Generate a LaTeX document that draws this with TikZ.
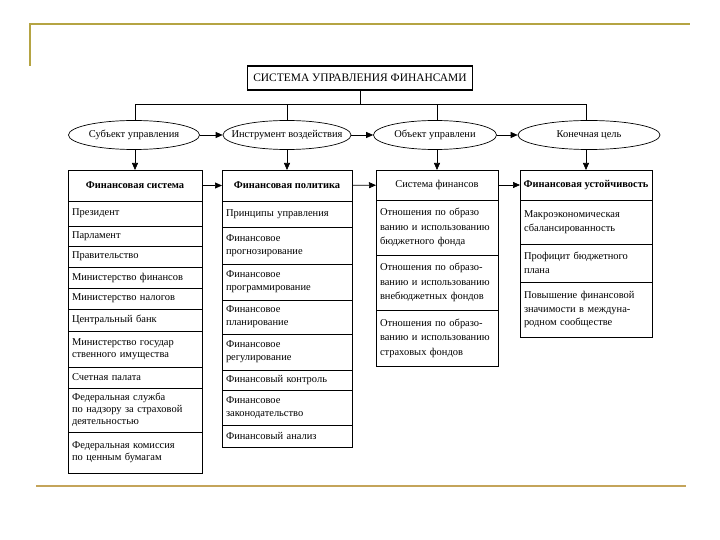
\documentclass[tikz,border=0pt]{standalone}
\usepackage{fontspec}
\setmainfont{Liberation Serif}
\usetikzlibrary{arrows.meta,positioning,shapes.geometric}
\definecolor{FinGold}{HTML}{B5A443}
\definecolor{FinTan}{HTML}{C4A45A}

\begin{document}
\begin{tikzpicture}[x=1bp,y=-1bp,
  node distance=0pt,
  title/.style={draw,line width=1.3pt,inner sep=2bp,minimum width=225bp,minimum height=24bp,
    font=\fontsize{11.5}{13}\selectfont},
  oval/.style={draw,ellipse,line width=0.7pt,minimum height=29bp,inner sep=0bp,
    font=\fontsize{10.5}{12}\selectfont},
  head/.style={draw,line width=0.8pt,outer sep=0pt,minimum height=31bp,inner sep=1bp,
    font=\bfseries\fontsize{10.5}{12}\selectfont,align=center},
  cell/.style={draw,line width=0.8pt,outer sep=0pt,inner xsep=4bp,inner ysep=1bp,align=left,
    font=\fontsize{10.5}{12}\selectfont},
  colA/.style={cell,text width=126bp},
  colB/.style={cell,text width=122bp,font=\fontsize{10.5}{13}\selectfont},
  colC/.style={cell,text width=114bp,font=\fontsize{10.5}{14.5}\selectfont},
  colD/.style={cell,text width=124bp,font=\fontsize{10.5}{14}\selectfont},
  arrow/.style={-{Triangle[length=7bp,width=6bp]},line width=0.7pt},
  wire/.style={line width=0.8pt}
]
\useasboundingbox[fill=white] (0,0) rectangle (720,540);
% frame lines
\draw[FinGold,line width=2.2bp] (30,66) -- (30,24) -- (690,24);
\draw[FinTan,line width=2.4bp] (36,486) -- (686,486);

% top
\node[title] (sys) at (360,78) {СИСТЕМА УПРАВЛЕНИЯ ФИНАНСАМИ};
\node[oval,minimum width=131bp] (subj) at (134,135) {\makebox[0pt]{Субъект управления}};
\node[oval,minimum width=128bp] (instr) at (287,135) {\makebox[0pt]{Инструмент воздействия}};
\node[oval,minimum width=123bp] (obj) at (435,135) {\makebox[0pt]{Объект управлени}};
\node[oval,minimum width=142bp] (goal) at (589,135) {\makebox[0pt]{Конечная цель}};
\coordinate (bus) at (360,104);

% column 1
\node[head,minimum width=134bp,anchor=north] (fsys) at (135,170) {Финансовая система};
\node[colA,minimum height=25bp,below=of fsys] (pres) {Президент};
\node[colA,minimum height=20bp,below=of pres] (parl) {Парламент};
\node[colA,minimum height=21bp,below=of parl] (govt) {Правительство};
\node[colA,minimum height=21bp,below=of govt] (minfin) {Министерство финансов};
\node[colA,minimum height=21bp,below=of minfin] (mintax) {Министерство налогов};
\node[colA,minimum height=22bp,below=of mintax] (cbank) {Центральный банк};
\node[colA,minimum height=36bp,below=of cbank] (minprop) {Министерство государ\\ственного имущества};
\node[colA,minimum height=21bp,below=of minprop] (audit) {Счетная палата};
\node[colA,minimum height=44bp,below=of audit] (insur) {Федеральная служба\\по надзору за страховой\\деятельностью};
\node[colA,minimum height=41bp,below=of insur] (secur) {Федеральная комиссия\\по ценным бумагам};

% column 2
\node[head,minimum width=130bp,anchor=north] (fpol) at (287,170) {Финансовая политика};
\node[colB,minimum height=26bp,below=of fpol] (princ) {Принципы управления};
\node[colB,minimum height=37bp,below=of princ] (forec) {Финансовое\\прогнозирование};
\node[colB,minimum height=36bp,below=of forec] (progr) {Финансовое\\программирование};
\node[colB,minimum height=34bp,below=of progr] (plan) {Финансовое\\планирование};
\node[colB,minimum height=36bp,below=of plan] (regul) {Финансовое\\регулирование};
\node[colB,minimum height=20bp,below=of regul] (contr) {Финансовый контроль};
\node[colB,minimum height=35bp,below=of contr] (legis) {Финансовое\\законодательство};
\node[colB,minimum height=22bp,below=of legis] (anal) {Финансовый анализ};

% column 3
\node[head,minimum width=122bp,minimum height=30bp,font=\fontsize{10.5}{12}\selectfont,anchor=north] (fin) at (437,170) {Система финансов};
\node[colC,minimum height=55bp,below=of fin] (budg) {Отношения по образо\\ванию и использованию\\бюджетного фонда};
\node[colC,minimum height=55bp,below=of budg] (extra) {Отношения по образо-\\ванию и использованию\\внебюджетных фондов};
\node[colC,minimum height=56bp,below=of extra] (insfund) {Отношения по образо-\\ванию и использованию\\страховых фондов};

% column 4
\node[head,minimum width=132bp,minimum height=30bp,anchor=north] (stab) at (586,170) {Финансовая устойчивость};
\node[colD,minimum height=44bp,below=of stab] (macro) {Макроэкономическая\\сбалансированность};
\node[colD,minimum height=38bp,below=of macro] (surpl) {Профицит бюджетного\\плана};
\node[colD,minimum height=55bp,below=of surpl] (rank) {Повышение финансовой\\значимости в междуна-\\родном сообществе};

% connectors
\draw[wire] (sys.south) -- (sys.south |- bus);
\draw[wire] (fsys.north |- subj.north) -- (fsys.north |- bus) -- (stab.north |- bus) -- (stab.north |- goal.north);
\draw[wire] (fpol.north |- instr.north) -- (fpol.north |- bus);
\draw[wire] (fin.north |- obj.north) -- (fin.north |- bus);
\draw[arrow] (subj) -- (instr);
\draw[arrow] (instr) -- (obj);
\draw[arrow] (obj) -- (goal);
\draw[arrow] (fsys.north |- subj.south) -- (fsys);
\draw[arrow] (fpol.north |- instr.south) -- (fpol);
\draw[arrow] (fin.north |- obj.south) -- (fin);
\draw[arrow] (stab.north |- goal.south) -- (stab);
\draw[arrow] (fsys) -- (fpol);
\draw[arrow] (fpol) -- (fin);
\draw[arrow] (fin) -- (stab);
\end{tikzpicture}
\end{document}
